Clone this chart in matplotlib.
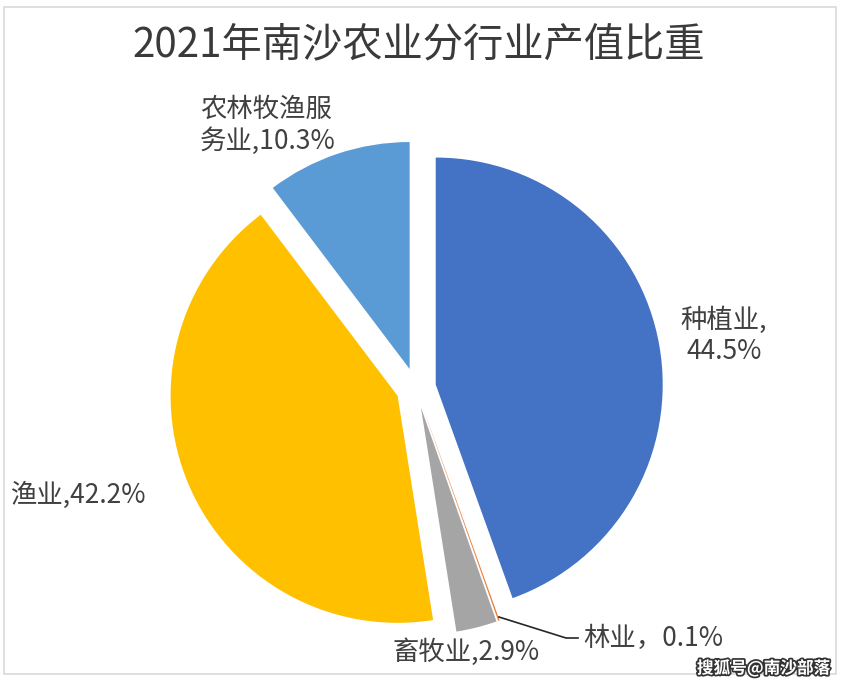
import matplotlib
matplotlib.use("Agg")
import matplotlib.pyplot as plt
import matplotlib.patheffects as pe
from matplotlib.patches import Rectangle

plt.rcParams['font.family'] = ['Noto Sans CJK SC', 'DejaVu Sans']

# data
categories = ["种植业", "林业", "畜牧业", "渔业", "农林牧渔服务业"]
shares = [44.5, 0.1, 2.9, 42.2, 10.3]
colors = ["#4472C4", "#ED7D31", "#A5A5A5", "#FFC000", "#5B9BD5"]
title = "2021年南沙农业分行业产值比重"

W, H = 843, 684
fig = plt.figure(figsize=(W / 100, H / 100), dpi=100)
ax = fig.add_axes([0, 0, 1, 1])

# pixel-ish data space, y up
cx, cy, r = 416, H - 388, 227
ax.pie(shares, colors=colors, startangle=90, counterclock=False,
       explode=[20] * len(shares), center=(cx, cy), radius=r,
       wedgeprops=dict(linewidth=0))
ax.set_xlim(0, W)
ax.set_ylim(0, H)
ax.set_aspect("auto")
ax.axis("off")

# chart frame
ax.add_patch(Rectangle((4, H - 674), 832, 667, fill=False,
                       edgecolor="#D9D9D9", linewidth=1.2))

ax.text(W / 2 - 3, H - 45, title, ha="center", va="center",
        fontsize=29, color="#3A3A3A")

lab_kw = dict(fontsize=19, color="#404040", linespacing=1.2)
ax.text(724, H - 336, f"{categories[0]},\n{shares[0]}%", ha="center",
        va="center", **lab_kw)
ax.text(200, H - 125, "农林牧渔服\n务业," + f"{shares[4]}%", ha="left",
        va="center", **lab_kw)
ax.text(10, H - 495, f"{categories[3]},{shares[3]}%", ha="left",
        va="center", **lab_kw)
ax.text(392, H - 652, f"{categories[2]},{shares[2]}%", ha="left",
        va="center", **lab_kw)
ax.text(583, H - 638, f"{categories[1]}，{shares[1]}%", ha="left",
        va="center", **lab_kw)
# leader line for the tiny slice
ax.plot([499, 566, 578], [H - 617, H - 638, H - 638], color="#262626",
        linewidth=1.2)

# watermark
ax.text(830, H - 668, "搜狐号@南沙部落", ha="right", va="center",
        fontsize=12, fontweight="bold", color="white",
        path_effects=[pe.withStroke(linewidth=2.5, foreground="#333333")])

fig.savefig("out.png", dpi=100)
